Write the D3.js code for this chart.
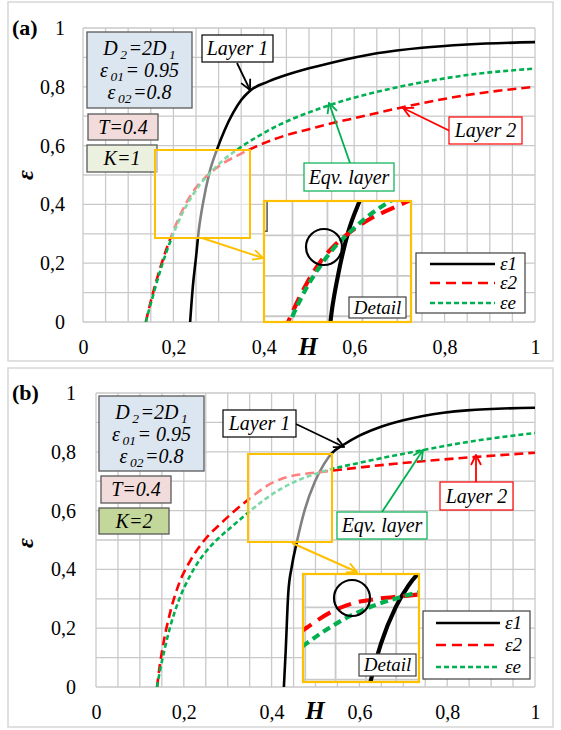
<!DOCTYPE html>
<html>
<head>
<meta charset="utf-8">
<script src="https://cdn.jsdelivr.net/npm/d3@7"></script>
<style>
  body { margin: 0; background: #fff; }
</style>
</head>
<body>
<svg id="chart" width="561" height="730"></svg>
<script>
// ---------- data ----------
const xTickValues = [0, 0.2, 0.4, 0.6, 0.8, 1];
const yTickValues = [0, 0.2, 0.4, 0.6, 0.8, 1];
const tickLabels  = ["0", "0,2", "0,4", "0,6", "0,8", "1"];
const seriesNames = ["ε1", "ε2", "εe"];

// panel (a): K = 1
const hA1 = [0.237, 0.243, 0.25, 0.256, 0.265, 0.28, 0.296, 0.314, 0.332, 0.35, 0.369, 0.407, 0.436, 0.5, 0.55, 0.65, 0.75, 0.85, 1.0];
const eA1 = [0, 0.12, 0.22, 0.31, 0.40, 0.51, 0.585, 0.655, 0.711, 0.755, 0.786, 0.816, 0.833, 0.863, 0.882, 0.914, 0.933, 0.944, 0.952];
const hA2 = [0.139, 0.145, 0.155, 0.17, 0.185, 0.2, 0.22, 0.24, 0.26, 0.28, 0.31, 0.34, 0.38, 0.42, 0.451, 0.5, 0.55, 0.6, 0.7, 0.85, 1.0];
const eA2 = [0, 0.04, 0.10, 0.18, 0.25, 0.31, 0.38, 0.435, 0.475, 0.505, 0.54, 0.565, 0.595, 0.62, 0.636, 0.656, 0.676, 0.693, 0.728, 0.772, 0.80];
const hAe = [0.139, 0.145, 0.155, 0.17, 0.185, 0.2, 0.22, 0.24, 0.26, 0.28, 0.31, 0.34, 0.38, 0.436, 0.5, 0.55, 0.6, 0.7, 0.85, 1.0];
const eAe = [0, 0.035, 0.09, 0.17, 0.24, 0.30, 0.37, 0.425, 0.47, 0.505, 0.55, 0.585, 0.625, 0.672, 0.713, 0.74, 0.763, 0.80, 0.84, 0.862];

// panel (b): K = 2
const hB1 = [0.428, 0.432, 0.438, 0.446, 0.457, 0.475, 0.499, 0.52, 0.537, 0.563, 0.6, 0.64, 0.7, 0.745, 0.845, 1.0];
const eB1 = [0, 0.12, 0.32, 0.41, 0.49, 0.60, 0.70, 0.76, 0.795, 0.823, 0.855, 0.88, 0.907, 0.922, 0.941, 0.95];
const hB2 = [0.139, 0.145, 0.155, 0.17, 0.19, 0.215, 0.25, 0.28, 0.305, 0.351, 0.39, 0.426, 0.47, 0.51, 0.608, 0.76, 0.86, 1.0];
const eB2 = [0, 0.07, 0.16, 0.26, 0.355, 0.43, 0.505, 0.55, 0.585, 0.642, 0.685, 0.71, 0.724, 0.731, 0.748, 0.77, 0.782, 0.797];
const hBe = [0.139, 0.145, 0.155, 0.17, 0.19, 0.215, 0.25, 0.275, 0.305, 0.344, 0.38, 0.419, 0.46, 0.51, 0.608, 0.745, 0.845, 1.0];
const eBe = [0, 0.05, 0.12, 0.21, 0.30, 0.38, 0.46, 0.50, 0.54, 0.59, 0.633, 0.672, 0.703, 0.73, 0.765, 0.806, 0.833, 0.864];

const zip = (hs, es) => hs.map((h, i) => [h, es[i]]);

// ---------- styles ----------
const SERIF = "'Liberation Serif', 'Times New Roman', Tinos, 'DejaVu Serif', serif";
const RED = "#ff0000", GREEN = "#00b050", YELLOW = "#ffc000", GRID = "#c9c9c9";
const seriesStyle = [
  { color: "#000", width: 2.6, dash: null },
  { color: RED,    width: 2.6, dash: "9,5" },
  { color: GREEN,  width: 2.6, dash: "5,3" }
];

const svg = d3.select("#chart").style("font-family", SERIF);
const defs = svg.append("defs");

function arrowMarker(id, color) {
  defs.append("marker")
    .attr("id", id).attr("viewBox", "0 0 12 12")
    .attr("refX", 11).attr("refY", 6)
    .attr("markerWidth", 12).attr("markerHeight", 12)
    .attr("markerUnits", "userSpaceOnUse")
    .attr("orient", "auto")
    .append("path").attr("d", "M1,1 L11,6 L1,11")
    .attr("fill", "none").attr("stroke", color).attr("stroke-width", 1.8);
}
arrowMarker("arBlack", "#000");
arrowMarker("arRed", RED);
arrowMarker("arGreen", GREEN);
arrowMarker("arYellow", YELLOW);

// ---------- panel layout ----------
const panels = [
  {
    tag: "(a)", kText: "K=1", kFill: "#ebf1de",
    frame: [8, 2, 553, 361], plot: [83, 535, 28, 322], yPad: 18,
    series: [zip(hA1, eA1), zip(hA2, eA2), zip(hAe, eAe)],
    tagPos: [12, 35], epsPos: [33, 175], hPos: [308, 355],
    param: [87, 32, 105, 76], tBox: [88, 114, 70, 26], kBox: [87, 145, 70, 27],
    layer1: { box: [202, 35, 71, 27], from: [237, 63], to: [250, 90] },
    layer2: { box: [449, 117, 73, 27], from: [450, 131], to: [403, 108] },
    eqv:    { box: [304, 163, 90, 28], from: [350, 163], to: [329, 103] },
    zoomSrc: [155, 150, 95, 88], zoomDst: [264, 201, 147, 121],
    zoomArrow: { from: [202, 238], to: [263, 258] },
    circle: [324, 247, 18], detail: [349, 297, 57, 21],
    legend: { box: [416, 253, 109, 60], x0: 430, x1: 495, ys: [264, 283, 303], tx: 500 }
  },
  {
    tag: "(b)", kText: "K=2", kFill: "#c4d79b",
    frame: [8, 368, 553, 727], plot: [96, 535, 393, 687], yPad: 20,
    series: [zip(hB1, eB1), zip(hB2, eB2), zip(hBe, eBe)],
    tagPos: [12, 400], epsPos: [33, 543], hPos: [315, 719],
    param: [99, 396, 105, 75], tBox: [101, 476, 70, 27], kBox: [99, 508, 70, 26],
    layer1: { box: [223, 410, 73, 27], from: [296, 424], to: [344, 447] },
    layer2: { box: [440, 482, 73, 28], from: [476, 482], to: [476, 455] },
    eqv:    { box: [337, 512, 90, 27], from: [382, 512], to: [423, 450] },
    zoomSrc: [248, 454, 84, 88], zoomDst: [303, 574, 116, 108],
    zoomArrow: { from: [292, 543], to: [357, 572] },
    circle: [352, 598, 18], detail: [359, 654, 57, 22],
    legend: { box: [423, 611, 107, 68], x0: 436, x1: 500, ys: [623, 645, 667], tx: 505 }
  }
];

function labelBox(g, r, stroke, fill, sw) {
  return g.append("rect").attr("x", r[0]).attr("y", r[1]).attr("width", r[2]).attr("height", r[3])
    .attr("fill", fill).attr("stroke", stroke).attr("stroke-width", sw);
}

function serifText(g) {
  return g.append("text").style("font-family", SERIF).attr("fill", "#000");
}

function centredText(g, r, str, size) {
  return serifText(g).attr("x", r[0] + r[2] / 2).attr("y", r[1] + r[3] / 2 + size * 0.33)
    .attr("text-anchor", "middle").attr("font-style", "italic").attr("font-size", size).text(str);
}

function drawGrid(g, x, y, stroke, sw) {
  g.selectAll(null).data(d3.range(0, 21).map(i => i / 20)).join("line")
    .attr("x1", d => x(d)).attr("x2", d => x(d)).attr("y1", y(0)).attr("y2", y(1))
    .attr("stroke", stroke).attr("stroke-width", sw);
  g.selectAll(null).data(d3.range(0, 11).map(i => i / 10)).join("line")
    .attr("y1", d => y(d)).attr("y2", d => y(d)).attr("x1", x(0)).attr("x2", x(1))
    .attr("stroke", stroke).attr("stroke-width", sw);
}

function drawSeries(g, x, y, data, scale) {
  const line = d3.line().x(d => x(d[0])).y(d => y(d[1])).curve(d3.curveMonotoneX);
  [0, 1, 2].forEach(i => {
    const s = seriesStyle[i];
    const dash = s.dash ? s.dash.split(",").map(v => +v * scale).join(",") : null;
    g.append("path").datum(data[i]).attr("d", line)
      .attr("fill", "none").attr("stroke", s.color)
      .attr("stroke-width", s.width * scale)
      .attr("stroke-dasharray", dash);
  });
}

// italic line with subscripts: parts are [string, isSubscript]
function subscripted(g, x, y, parts) {
  const t = serifText(g).attr("x", x).attr("y", y).attr("text-anchor", "middle")
    .attr("font-style", "italic").attr("font-size", 20);
  let prevSub = false;
  parts.forEach(([str, sub]) => {
    const dy = sub ? 4 : (prevSub ? -4 : 0);
    const dx = sub ? 2.5 : (prevSub ? 1.5 : 0);
    t.append("tspan").attr("font-size", sub ? 13.5 : 20).attr("dx", dx).attr("dy", dy).text(str);
    prevSub = sub;
  });
  return t;
}

panels.forEach((p, pi) => {
  const g = svg.append("g");
  const [px0, px1, py0, py1] = p.plot;
  const x = d3.scaleLinear().domain([0, 1]).range([px0, px1]);
  const y = d3.scaleLinear().domain([0, 1]).range([py1, py0]);

  // outer frame
  g.append("rect").attr("x", p.frame[0]).attr("y", p.frame[1])
    .attr("width", p.frame[2] - p.frame[0]).attr("height", p.frame[3] - p.frame[1])
    .attr("fill", "none").attr("stroke", "#d9d9d9").attr("stroke-width", 1.6);

  // grid
  drawGrid(g.append("g"), x, y, GRID, 1.3);

  // axes labels
  const fmt = v => tickLabels[Math.round(v * 5)];
  const ax = g.append("g").attr("transform", `translate(0,${py1})`)
    .call(d3.axisBottom(x).tickValues(xTickValues).tickFormat(fmt).tickSize(0).tickPadding(18));
  const ay = g.append("g").attr("transform", `translate(${px0},0)`)
    .call(d3.axisLeft(y).tickValues(yTickValues).tickFormat(fmt).tickSize(0).tickPadding(p.yPad));
  [ax, ay].forEach(a => {
    a.select(".domain").remove();
    a.attr("font-family", null);
    a.selectAll("text").attr("font-size", 20).attr("fill", "#000").style("font-family", SERIF);
  });

  serifText(g).attr("x", p.hPos[0]).attr("y", p.hPos[1]).attr("text-anchor", "middle")
    .attr("font-weight", "bold").attr("font-style", "italic").attr("font-size", 25).text("H");
  serifText(g).attr("transform", `translate(${p.epsPos[0]},${p.epsPos[1]}) rotate(-90)`)
    .attr("text-anchor", "middle").attr("font-weight", "bold").attr("font-style", "italic")
    .attr("font-size", 24).text("ε");
  serifText(g).attr("x", p.tagPos[0]).attr("y", p.tagPos[1])
    .attr("font-weight", "bold").attr("font-size", 22).text(p.tag);

  // curves
  const clipId = "clip" + pi;
  defs.append("clipPath").attr("id", clipId).append("rect")
    .attr("x", px0).attr("y", py0 - 2).attr("width", px1 - px0).attr("height", py1 - py0 + 2);
  drawSeries(g.append("g").attr("clip-path", `url(#${clipId})`), x, y, p.series, 1);

  // parameter boxes
  labelBox(g, p.param, "#595959", "#dce6f1", 1.3);
  const cx = p.param[0] + p.param[2] / 2, by = p.param[1];
  subscripted(g, cx, by + 23, [["D", false], ["2", true], ["=2D", false], ["1", true]]);
  subscripted(g, cx, by + 45, [["ε", false], ["01", true], ["= 0.95", false]]);
  subscripted(g, cx, by + 67, [["ε", false], ["02", true], ["=0.8", false]]);

  labelBox(g, p.tBox, "#595959", "#f2dcdb", 1.3);
  centredText(g, p.tBox, "T=0.4", 20);
  labelBox(g, p.kBox, "#595959", p.kFill, 1.3);
  centredText(g, p.kBox, p.kText, 20);

  // highlighted zoom region (washed out)
  const zs = p.zoomSrc;
  g.append("rect").attr("x", zs[0]).attr("y", zs[1]).attr("width", zs[2]).attr("height", zs[3])
    .attr("fill", "#fff").attr("fill-opacity", 0.5).attr("stroke", YELLOW).attr("stroke-width", 2);
  g.append("line").attr("x1", p.zoomArrow.from[0]).attr("y1", p.zoomArrow.from[1])
    .attr("x2", p.zoomArrow.to[0]).attr("y2", p.zoomArrow.to[1])
    .attr("stroke", YELLOW).attr("stroke-width", 2).attr("marker-end", "url(#arYellow)");

  // magnified inset
  const zd = p.zoomDst;
  const xi = d3.scaleLinear().domain([x.invert(zs[0]), x.invert(zs[0] + zs[2])]).range([zd[0], zd[0] + zd[2]]);
  const yi = d3.scaleLinear().domain([y.invert(zs[1] + zs[3]), y.invert(zs[1])]).range([zd[1] + zd[3], zd[1]]);
  const xm = v => zd[0] + (v - zs[0]) * zd[2] / zs[2];
  const ym = v => zd[1] + (v - zs[1]) * zd[3] / zs[3];
  const insetClip = "inset" + pi;
  defs.append("clipPath").attr("id", insetClip).append("rect")
    .attr("x", zd[0]).attr("y", zd[1]).attr("width", zd[2]).attr("height", zd[3]);
  const ig = g.append("g").attr("clip-path", `url(#${insetClip})`);
  ig.append("rect").attr("x", zd[0]).attr("y", zd[1]).attr("width", zd[2]).attr("height", zd[3]).attr("fill", "#fff");
  const xg = d3.scaleLinear().domain([0, 1]).range([xi(0), xi(1)]);
  const yg = d3.scaleLinear().domain([0, 1]).range([yi(0), yi(1)]);
  drawGrid(ig.append("g"), xg, yg, GRID, 1.8);
  // the parameter box edge that falls inside the magnified region
  ig.append("rect").attr("x", xm(p.kBox[0])).attr("y", ym(p.kBox[1]))
    .attr("width", xm(p.kBox[0] + p.kBox[2]) - xm(p.kBox[0]))
    .attr("height", ym(p.kBox[1] + p.kBox[3]) - ym(p.kBox[1]))
    .attr("fill", p.kFill).attr("stroke", "#595959").attr("stroke-width", 1.5);
  drawSeries(ig, xi, yi, p.series, 1.6);
  g.append("circle").attr("cx", p.circle[0]).attr("cy", p.circle[1]).attr("r", p.circle[2])
    .attr("fill", "none").attr("stroke", "#000").attr("stroke-width", 2.2);
  g.append("rect").attr("x", zd[0]).attr("y", zd[1]).attr("width", zd[2]).attr("height", zd[3])
    .attr("fill", "none").attr("stroke", YELLOW).attr("stroke-width", 2.2);
  labelBox(g, p.detail, "#404040", "#fff", 1.2);
  centredText(g, p.detail, "Detail", 19);

  // layer call-outs
  const callout = (c, str, stroke, marker) => {
    g.append("line").attr("x1", c.from[0]).attr("y1", c.from[1]).attr("x2", c.to[0]).attr("y2", c.to[1])
      .attr("stroke", stroke).attr("stroke-width", 1.8).attr("marker-end", `url(#${marker})`);
    labelBox(g, c.box, stroke, "#fff", 1.2);
    centredText(g, c.box, str, 20);
  };
  callout(p.layer1, "Layer 1", "#000", "arBlack");
  callout(p.layer2, "Layer 2", RED, "arRed");
  callout(p.eqv, "Eqv. layer", GREEN, "arGreen");

  // legend
  const L = p.legend;
  labelBox(g, L.box, "#404040", "#fff", 1.2);
  seriesNames.forEach((name, i) => {
    const s = seriesStyle[i];
    g.append("line").attr("x1", L.x0).attr("x2", L.x1).attr("y1", L.ys[i]).attr("y2", L.ys[i])
      .attr("stroke", s.color).attr("stroke-width", s.width)
      .attr("stroke-dasharray", i === 1 ? "10,6" : s.dash);
    serifText(g).attr("x", L.tx).attr("y", L.ys[i] + 6).attr("font-style", "italic")
      .attr("font-size", 19).text(name);
  });
});
</script>
</body>
</html>
